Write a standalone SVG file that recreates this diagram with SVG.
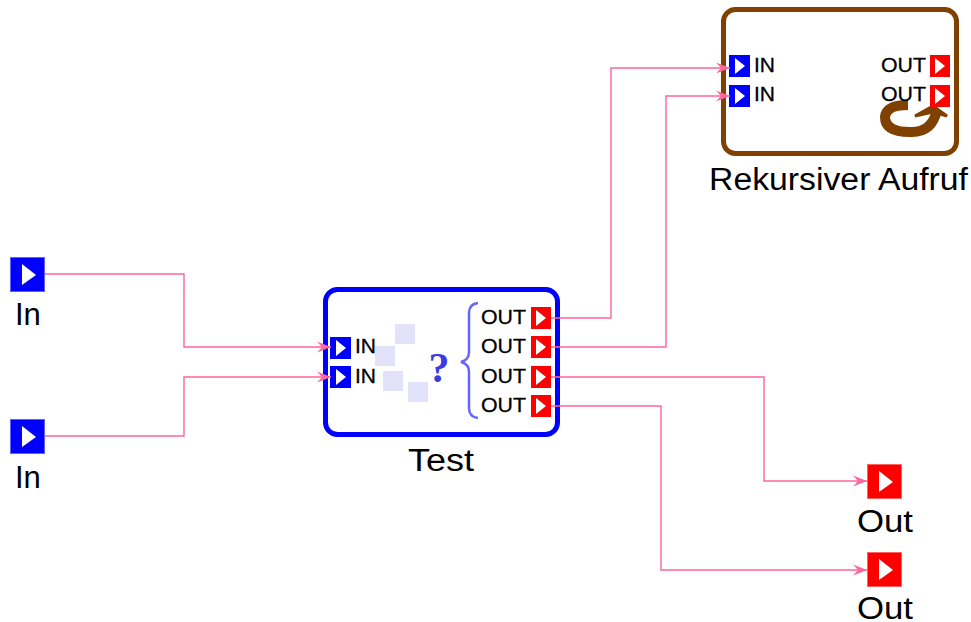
<svg xmlns="http://www.w3.org/2000/svg" width="971" height="622" viewBox="0 0 971 622">
<style>
text{font-family:"Liberation Sans",Arial,sans-serif;fill:#000}
.lab{font-size:31px;text-anchor:start}
.p{font-size:21px;stroke:#000;stroke-width:.3px}
.e{text-anchor:end}
.w{fill:none;stroke:#ff6699;stroke-width:1.4}
.blue{fill:#0000ff}.red{fill:#ff0000}
.tri{fill:#fff}
.sq{fill:#e2e2fa}
</style>
<defs>
<marker id="a" markerUnits="userSpaceOnUse" markerWidth="15" markerHeight="12" refX="14" refY="6" orient="auto" viewBox="0 0 15 12"><path d="M0 0.500L14 6L0 11.500L5 6Z" fill="#ff6699"/></marker>
<g id="pi"><rect width="21" height="22" class="blue"/><path d="M6 3L16 11L6 19Z" class="tri"/></g>
<g id="po"><rect width="20" height="22" class="red"/><path d="M5 3L15 11L5 19Z" class="tri"/></g>
<g id="bi"><rect x=".5" y=".5" width="34" height="34" fill="#0000ff" stroke="#6060ff"/><path d="M12 7L26 18L12 28Z" class="tri"/></g>
<g id="bo"><rect x=".5" y=".5" width="34" height="34" fill="#ff0000" stroke="#ff6060"/><path d="M12 7L26 18L12 28Z" class="tri"/></g>
</defs>
<g id="in1"><use href="#bi" x="10" y="257"/><text class="lab" x="15" y="325">In</text></g>
<g id="in2"><use href="#bi" x="10" y="419"/><text class="lab" x="15" y="488">In</text></g>
<g id="test">
<rect x="325.500" y="289.500" width="232" height="145" rx="12" fill="#fff" stroke="#0000ff" stroke-width="5"/>
<rect class="sq" x="395" y="324" width="20" height="20"/><rect class="sq" x="375" y="346" width="20" height="20"/><rect class="sq" x="383" y="371" width="20" height="20"/><rect class="sq" x="408" y="382" width="20" height="20"/>
<text x="439" y="382" font-size="42" font-weight="700" text-anchor="middle" style="font-family:'Liberation Serif',serif;fill:#3a3ae0">?</text>
<path d="M478 303Q469 304 469 313V352Q469 360 461 362Q469 364 469 372V408Q469 417 478 418" fill="none" stroke="#6666ff" stroke-width="2.500"/>
<use href="#pi" x="330" y="337"/><use href="#pi" x="330" y="366"/>
<text class="p" x="355" y="353">IN</text><text class="p" x="355" y="383">IN</text>
<use href="#po" x="531" y="307"/><use href="#po" x="531" y="336"/><use href="#po" x="531" y="366"/><use href="#po" x="531" y="395"/>
<text class="p" x="481" y="324" textLength="45" lengthAdjust="spacingAndGlyphs">OUT</text><text class="p" x="481" y="353" textLength="45" lengthAdjust="spacingAndGlyphs">OUT</text><text class="p" x="481" y="383" textLength="45" lengthAdjust="spacingAndGlyphs">OUT</text><text class="p" x="481" y="412" textLength="45" lengthAdjust="spacingAndGlyphs">OUT</text>
<text class="lab" x="408" y="471" textLength="66" lengthAdjust="spacingAndGlyphs">Test</text>
</g>
<g id="rekursiv">
<rect x="723.500" y="9.500" width="233" height="144" rx="12" fill="#fff" stroke="#804000" stroke-width="5"/>
<use href="#pi" x="729" y="55"/><use href="#pi" x="729" y="85"/>
<text class="p" x="754" y="72">IN</text><text class="p" x="754" y="101">IN</text>
<path d="M908 105Q886 105 885 117Q885 132 910 132Q932 133 937 110" fill="none" stroke="#804000" stroke-width="10"/>
<path d="M915 116L933 106L947 116L933 112Z" fill="#804000" stroke="#804000" stroke-width="3"/>
<text class="p" x="881" y="72" textLength="45" lengthAdjust="spacingAndGlyphs">OUT</text><text class="p" x="881" y="101" textLength="45" lengthAdjust="spacingAndGlyphs">OUT</text>
<use href="#po" x="930" y="55"/><use href="#po" x="930" y="85"/>
<text class="lab" x="709" y="190" textLength="259" lengthAdjust="spacingAndGlyphs">Rekursiver Aufruf</text>
</g>
<g id="out1"><use href="#bo" x="867" y="464"/><text class="lab" x="857" y="532" textLength="56" lengthAdjust="spacingAndGlyphs">Out</text></g>
<g id="out2"><use href="#bo" x="867" y="552"/><text class="lab" x="857" y="619" textLength="56" lengthAdjust="spacingAndGlyphs">Out</text></g>
<g id="connectors">
<path class="w" d="M45 274H184V347H331" marker-end="url(#a)"/>
<path class="w" d="M45 436H184V377H331" marker-end="url(#a)"/>
<path class="w" d="M551 318H611V68H730" marker-end="url(#a)"/>
<path class="w" d="M551 347H666V96H730" marker-end="url(#a)"/>
<path class="w" d="M551 377H764V481H867" marker-end="url(#a)"/>
<path class="w" d="M551 406H661V570H867" marker-end="url(#a)"/>
</g>
</svg>
